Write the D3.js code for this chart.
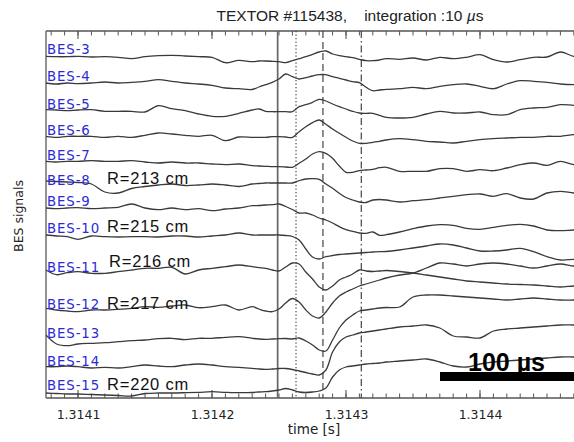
<!DOCTYPE html>
<html><head><meta charset="utf-8">
<script src="https://cdn.jsdelivr.net/npm/d3@7"></script>
<style>body{margin:0;background:#fff}svg{display:block}</style>
</head><body><svg id="c" width="574" height="442"></svg>
<script>
// ---- data ----
const T0 = 1.3141; // s
const timeUs = [-24,-16,-8,0,10,20,30,40,50,60,70,80,90,100,110,120,130,135,140,145,150,155,160,165,170,175,180,185,190,195,200,205,210,215,220,225,230,240,250,260,270,280,290,300,310,320,330,340,350,360,370,378];
const channels = ["BES-3","BES-4","BES-5","BES-6","BES-7","BES-8","BES-9","BES-10","BES-11","BES-12","BES-13","BES-14","BES-15"];
const offsets = [341,314,287,261,236,215,190,162,127,90,58,31,6];
const bes3 = [0.7,0.3,0.3,0.7,0,0.3,-0.3,-1.7,0.3,1.3,1.7,1,0.3,-0.3,-5.7,-3.3,-4.7,-4,-4,-4.3,-4.7,-5.7,-3.7,-1.7,0.3,2.7,5,6,3,1.3,0.3,-0.7,-2.3,-3.7,-3.7,-3,-1.7,-2.3,-1,-3,-0.3,-1.7,-0.3,2.3,-2.7,-5,-2.7,-0.3,0,5,0.7,1];
const bes4 = [1,0,1,0.3,1,2,1,1.7,2.7,4.3,2.7,1,0,-1.3,-4,-4.7,-5.5,-3,-0.7,1.7,5,10,7.3,5,6.3,8,9.3,9.3,7.3,5.7,4,2.3,1.3,-3.3,-6.7,-6,-5.3,-4.7,-3.3,-4.7,-2.3,-0.7,0,-2.3,-4.7,0,3.3,2.7,1.7,0,-0.7,-0.7];
const bes5 = [1.3,1,0.3,1,1.3,-0.3,-0.3,-0.3,-1,5.3,2.3,0.3,-3,-5.3,-5.3,-2.3,1,2,-0.3,-0.7,-0.7,-0.7,-0.7,4.3,6.3,8.7,11.7,10,7,4.3,2,-0.3,-2,-2.3,-2.3,-4.3,-6.3,-7,-6.3,-3,-0.3,-2,-2,-1,-3.7,-3.7,1.3,3,3.7,6.3,5.7,5.7];
const bes6 = [0.7,-0.3,0.7,0.7,0.7,-0.3,0.7,-0.3,1.7,4,3,1.7,0.7,1.7,-3.7,0,-0.3,-0.3,-0.3,0.3,0.3,0,-0.3,5.3,10.3,14.3,17,12.7,8,3.7,-0.3,-4,-6.3,-6.3,-5.3,-4.3,-3,-1.7,-2.7,-4.3,-5,-6,-4.3,-2.7,-1.7,-1,-0.3,-0.3,0.7,0.7,2.3,2.3];
const bes7 = [0.7,0,0.7,0.7,1.3,0.7,0.7,1.3,0,-1,0,-1,-1,-2,-2.7,-2,-3.7,-4,-4.3,-4.7,-4.7,-5,-5.3,-1.3,3,8,10.3,8.7,3.7,-4,-10.3,-10.3,-8.7,-8,-7.3,-5.7,-5.3,-9.3,-9.3,-9.3,-6.7,-6.7,-9.3,-7.7,-8.7,-6,-2.7,-1,-3.3,0.7,-2.7,-2.7];
const bes8 = [2,1.5,1,0.5,-1,-9,-10,-5.5,-3.5,-2,-1,-2.5,-2,-1,-2,-3.5,-1,-0.5,0,0,0,0,0,2.3,4,4.3,3.7,-1,-5.3,-10.3,-14.5,-17,-19,-19.5,-17,-16.5,-17,-19,-17.7,-16.7,-15,-13.3,-11.7,-11,-13.3,-10.7,-15,-16,-10,-8.3,-10,-10];
const bes9 = [0,-0.7,0,0.3,-0.7,0,0.7,4,0,-1.7,0,-1.7,-0.7,-2.7,-1,0,2.3,2.5,3,3.3,4,1.5,-1.5,-5,-5,-7,-10,-12,-15,-18.7,-21.7,-23.3,-25,-25.3,-24,-27.3,-26.7,-24,-20.7,-18,-16.7,-17.3,-20.3,-21.3,-19.3,-17.3,-16.3,-18,-22,-22.7,-22,-22];
const bes10 = [1,0,-0.7,-3.3,0,-0.7,-1,-0.7,-0.7,-1,0,0,-1,0,1,3,1,1,1,1,1,0.5,-0.5,-4,-13,-21,-23,-20.7,-19.5,-18.5,-18,-17.5,-17,-16.5,-16,-15.7,-15.5,-14,-12,-10,-8,-9,-12,-15,-15,-14,-12.3,-15.7,-20.7,-24,-23.3,-23.3];
const bes11 = [1,-3.7,-1.7,-0.7,-2.3,-2.3,-0.7,1,2.7,2.7,3.7,-3,1,2.7,4.3,6,4.3,3.3,2.7,1,0,4,8,7,-1,-8,-16,-19,-15,-9,-6,-3,1,0,-0.5,0,0.5,-0.5,-2,-4,-6,-8,-10,-11,-12,-13,-13.5,-14,-15,-16,-15,-15];
const bes12 = [-0.3,-2,-3,-3.7,-2,-2,-1.3,-0.3,1.3,0.7,2,3,0.3,1.3,3,-2,1.3,-1,-3,-3.7,-1,5,9.5,6,-2,-8,-10,-4,5,12,16,19,22,24,26,28,30,33,35,40,45,44,42,44,45,44,42,40,42,44,42,42];
const bes13 = [5,-4,-5.7,-4,-3.3,-2.7,-1.7,-0.7,0,1.3,1.7,0.3,1.7,1.7,2.7,3.3,1.7,1,0.7,1,1.3,1.5,1,2,-1,-5,-10,-11,0,12,20,25,29,30,31,32,32.5,33,43,45,45,44,43,42,41,40,41,42,41,40,40,40];
const bes14 = [0.3,0.3,1,0.3,-1,-0.3,-1,0.3,2,1,0.3,2,3,2,0.3,-0.3,-1.3,-2,-2.3,-2,-1.5,-1.5,-2.5,-4,-5.5,-7,-8,-3,15,25,30,32,34,35,36,37,38,40,41,42,39,31,30,29,36,38,39,40,41,42,42,42];
const bes15 = [-1,-1.5,-2,-2,-2.5,-3,-3.5,-4,-1.5,-1,-1,-0.7,-0.3,0.3,-0.3,-0.7,-0.5,0,0.3,1,2,3.5,2,0,-0.5,0,1,4,15,22,25,26,27,28,28.5,29,30,31,32,33,30,26,25,28,30,31,32,33,34,35,35,35];
const signals = [bes3,bes4,bes5,bes6,bes7,bes8,bes9,bes10,bes11,bes12,bes13,bes14,bes15];
const radiusLabels = [{ch:"BES-8",text:"R=213 cm"},{ch:"BES-10",text:"R=215 cm"},{ch:"BES-11",text:"R=216 cm"},{ch:"BES-12",text:"R=217 cm"},{ch:"BES-15",text:"R=220 cm"}];
const tickLabels = ["1.3141","1.3142","1.3143","1.3144"];
const markerTimes = [1.314249, 1.3142627, 1.3142828, 1.3143114];
const markerStyles = ["solid","dotted","dashed","dashdot"];
const scaleBarUs = 100;

// ---- layout ----
const svg = d3.select("#c");
const L = 46, R = 592, TOP = 31, BOT = 398;
const x = d3.scaleLinear().domain([T0, T0 + 0.0003]).range([78, 480]);
const y = d3.scaleLinear().domain([0, 367]).range([BOT, TOP]);
const labelY = [54,81,108.5,135,160,184.5,206,233,271.5,309,338,366,390];

svg.append("defs").append("clipPath").attr("id","clip")
  .append("rect").attr("x",L).attr("y",TOP).attr("width",R-L).attr("height",BOT-TOP);

// title
const title = svg.append("text").attr("x",350).attr("y",21).attr("text-anchor","middle")
  .style("font-family","Liberation Sans, Arial, sans-serif").style("font-size","15.5px")
  .style("white-space","pre").attr("fill","#222");
title.append("tspan").text("TEXTOR #115438,    integration :10 ");
title.append("tspan").style("font-style","italic").text("\u00b5");
title.append("tspan").text("s");

// axes
const majors = tickLabels.map(Number);
const minors = d3.range(-2, 50).map(i => T0 + i*1e-5).filter(t => x(t) > L+1 && x(t) < 574);
const gAx = svg.append("g").attr("stroke","#555");
function tickRow(yy, dir){
  gAx.selectAll(null).data(minors).join("line")
    .attr("x1",d=>x(d)).attr("x2",d=>x(d)).attr("y1",yy).attr("y2",yy+dir*4.5).attr("stroke-width",1);
  gAx.selectAll(null).data(majors).join("line")
    .attr("x1",d=>x(d)).attr("x2",d=>x(d)).attr("y1",yy).attr("y2",yy+dir*8).attr("stroke-width",1.1);
}
tickRow(TOP, 1); tickRow(BOT, -1);
gAx.append("line").attr("x1",L).attr("x2",574).attr("y1",TOP).attr("y2",TOP).attr("stroke-width",1.3);
gAx.append("line").attr("x1",L).attr("x2",574).attr("y1",BOT).attr("y2",BOT).attr("stroke-width",1.3);
gAx.append("line").attr("x1",L).attr("x2",L).attr("y1",TOP).attr("y2",BOT).attr("stroke","#777").attr("stroke-width",1.6);

const bottomAxis = d3.axisBottom(x).tickValues(majors).tickFormat((d,i)=>tickLabels[i]).tickSize(0).tickPadding(0);
const gb = svg.append("g").attr("transform",`translate(0,${BOT})`).call(bottomAxis);
gb.select(".domain").remove();
gb.selectAll("text").attr("y",21).attr("dy",null)
  .style("font-family","DejaVu Sans, sans-serif").style("font-size","12.5px").attr("fill","#222");

svg.append("text").attr("x",314).attr("y",434).attr("text-anchor","middle")
  .style("font-family","DejaVu Sans, sans-serif").style("font-size","13.5px").attr("fill","#222").text("time [s]");
svg.append("text").attr("transform","translate(23,216) rotate(-90)").attr("text-anchor","middle")
  .style("font-family","DejaVu Sans, sans-serif").style("font-size","12.5px").attr("fill","#222").text("BES signals");

// marker lines
const dash = {solid:null, dotted:"1.2,2.3", dashed:"7,4", dashdot:"7,3,1.5,3"};
svg.append("g").selectAll("line").data(markerTimes).join("line")
  .attr("x1",d=>x(d)).attr("x2",d=>x(d)).attr("y1",TOP).attr("y2",BOT)
  .attr("stroke",(d,i)=> i===0 ? "#666" : "#333")
  .attr("stroke-width",(d,i)=> i===0 ? 1.7 : 1.1)
  .attr("stroke-dasharray",(d,i)=>dash[markerStyles[i]]);

// traces
const line = d3.line().curve(d3.curveCatmullRom.alpha(0.5));
const gT = svg.append("g").attr("clip-path","url(#clip)");
signals.forEach((s,ci)=>{
  const pts = timeUs.map((t,i)=>[x(T0 + t*1e-6), y(offsets[ci] + s[i])]).filter(p=>!isNaN(p[1]));
  gT.append("path").attr("d",line(pts)).attr("fill","none")
    .attr("stroke","#3a3a3a").attr("stroke-width",1.3).attr("stroke-linejoin","round");
});

// channel labels
svg.append("g").selectAll("text").data(channels).join("text")
  .attr("x",47).attr("y",(d,i)=>labelY[i]).text(d=>d)
  .style("font-family","DejaVu Sans, sans-serif").style("font-size","13.3px").style("letter-spacing","0.9px")
  .attr("fill","#2a2ad8");

// radius labels
svg.append("g").selectAll("text").data(radiusLabels).join("text")
  .attr("x",d=> d.ch==="BES-11" ? 109 : 107)
  .attr("y",d=>labelY[channels.indexOf(d.ch)] - (d.ch==="BES-8"?0.5:0) - (d.ch==="BES-10"?1.5:0) - (d.ch==="BES-11"?5:0))
  .text(d=>d.text)
  .style("font-family","Liberation Sans, Arial, sans-serif").style("font-size","16.5px").style("letter-spacing","0.8px")
  .attr("fill","#111");

// scale bar
const barX0 = 440;
const wBar = x(T0 + scaleBarUs*1e-6) - x(T0);
svg.append("rect").attr("x",barX0).attr("y",372).attr("width",wBar).attr("height",9).attr("fill","#000");
svg.append("text").attr("x",468).attr("y",371)
  .style("font-family","Liberation Sans, Arial, sans-serif").style("font-size","25px").style("font-weight","bold")
  .attr("fill","#000").text(scaleBarUs + " \u00b5s");
</script></body></html>
